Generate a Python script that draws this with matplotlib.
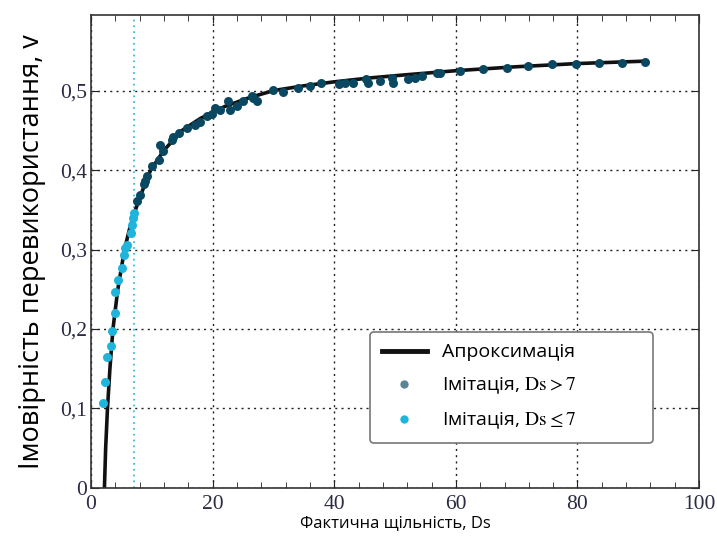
import numpy as np
import matplotlib.pyplot as plt
from matplotlib.lines import Line2D
from matplotlib.ticker import MultipleLocator, FuncFormatter

plt.rcParams['mathtext.fontset'] = 'stix'

# simulation points, Ds <= 7
x_low = [1.9, 2.35, 2.6, 3.2, 3.45, 3.9, 4.0, 4.4, 5.1, 5.4, 5.6, 5.9, 6.5, 6.7, 6.9, 7.0]
y_low = [0.107, 0.133, 0.165, 0.178, 0.197, 0.220, 0.247, 0.262, 0.277, 0.293, 0.302, 0.306,
         0.321, 0.331, 0.340, 0.346]

# simulation points, Ds > 7
x_high = [7.6, 8.1, 8.7, 8.9, 9.2, 10.0, 11.1, 11.3, 11.9, 13.3, 13.5, 14.4, 15.7, 17.1, 17.9,
          19.0, 19.9, 20.4, 21.2, 22.6, 22.9, 24.0, 25.0, 26.4, 26.7, 27.3, 30.0, 31.6, 34.1,
          36.0, 37.9, 40.7, 41.8, 43.1, 45.3, 45.6, 47.5, 49.5, 49.7, 52.2, 53.3, 54.4, 56.9,
          57.4, 60.7, 64.5, 68.4, 71.9, 75.8, 79.8, 83.6, 87.3, 91.1]
y_high = [0.361, 0.369, 0.382, 0.386, 0.392, 0.405, 0.413, 0.431, 0.424, 0.438, 0.442, 0.447,
          0.453, 0.457, 0.461, 0.468, 0.470, 0.478, 0.476, 0.487, 0.476, 0.480, 0.487, 0.493,
          0.491, 0.487, 0.501, 0.498, 0.503, 0.506, 0.510, 0.508, 0.510, 0.510, 0.515, 0.510,
          0.512, 0.516, 0.510, 0.515, 0.516, 0.518, 0.522, 0.522, 0.524, 0.527, 0.528, 0.531,
          0.533, 0.533, 0.535, 0.535, 0.536]

# approximation curve
x_fit = [2.2, 2.4, 2.7, 3.1, 3.6, 4.4, 5.5, 6.3, 7.3, 8.5, 9.8, 12.0, 15.0, 18.0, 22.0, 26.0,
         30.0, 35.0, 40.0, 46.0, 52.0, 60.0, 70.0, 80.0, 91.0]
y_fit = [0.0, 0.05, 0.1, 0.15, 0.2, 0.25, 0.3, 0.325, 0.35, 0.375, 0.4, 0.425, 0.45, 0.465,
         0.48, 0.491, 0.5, 0.506, 0.511, 0.516, 0.52, 0.525, 0.53, 0.534, 0.537]

threshold = 7

dark = '#0a4861'
cyan = '#1fb4dc'

fig = plt.figure(figsize=(7.17, 5.38), dpi=100)
ax = fig.add_axes([0.127, 0.093, 0.848, 0.879])

ax.plot(x_fit, y_fit, color='#111111', lw=2.6, zorder=2)
ax.scatter(x_high, y_high, s=42, color=dark, zorder=3, linewidths=0)
ax.scatter(x_low, y_low, s=42, color=cyan, zorder=3, linewidths=0)
ax.axvline(threshold, color=cyan, lw=1.2, ls=(0, (1, 2.5)), zorder=1)

ax.set_xlim(0, 100)
ax.set_ylim(0, 0.595)
ax.xaxis.set_major_locator(MultipleLocator(20))
ax.xaxis.set_minor_locator(MultipleLocator(4))
ax.set_yticks([0, 0.1, 0.2, 0.3, 0.4, 0.5])
ax.yaxis.set_major_formatter(FuncFormatter(
    lambda v, p: '0' if abs(v) < 1e-9 else ('%.1f' % v).replace('.', ',')))
ax.grid(True, which='major', color='#222222', lw=1.0, ls=(0, (1.5, 3)))
ax.tick_params(which='both', direction='in', top=True, right=True, color='#222222')
ax.tick_params(which='major', length=6, labelsize=15.5, labelcolor='#2b2b45')
ax.tick_params(axis='x', which='major', pad=5)
ax.tick_params(axis='y', which='major', pad=3)
ax.tick_params(which='minor', length=4)
for lab in ax.get_xticklabels() + ax.get_yticklabels():
    lab.set_family('Liberation Serif')
for s in ax.spines.values():
    s.set_color('#333333')
    s.set_linewidth(1.2)

ax.set_xlabel('Фактична щільність, Ds', family='Open Sans', fontsize=12, labelpad=1)
ax.set_ylabel('Імовірність перевикористання, v', family='Open Sans', fontsize=19.5, labelpad=10)

handles = [
    Line2D([], [], color='#111111', lw=3.5),
    Line2D([], [], ls='', marker='o', ms=6, color='#5a8595', mec='none'),
    Line2D([], [], ls='', marker='o', ms=6, color=cyan, mec='none'),
]
labels = ['Апроксимація', 'Імітація, $\\mathrm{Ds} > 7$', 'Імітація, $\\mathrm{Ds} \\leq 7$']
leg = ax.legend(handles, labels, loc='upper left', bbox_to_anchor=(0.443, 0.108, 0.497, 0.243),
                mode='expand', frameon=True, fancybox=True, handlelength=2.3,
                labelspacing=0.75, borderpad=0.6, prop={'family': 'Open Sans', 'size': 14})
leg.get_frame().set_edgecolor('#777777')
leg.get_frame().set_linewidth(1.2)
leg.get_frame().set_alpha(1)

fig.savefig('out.png', dpi=100)
